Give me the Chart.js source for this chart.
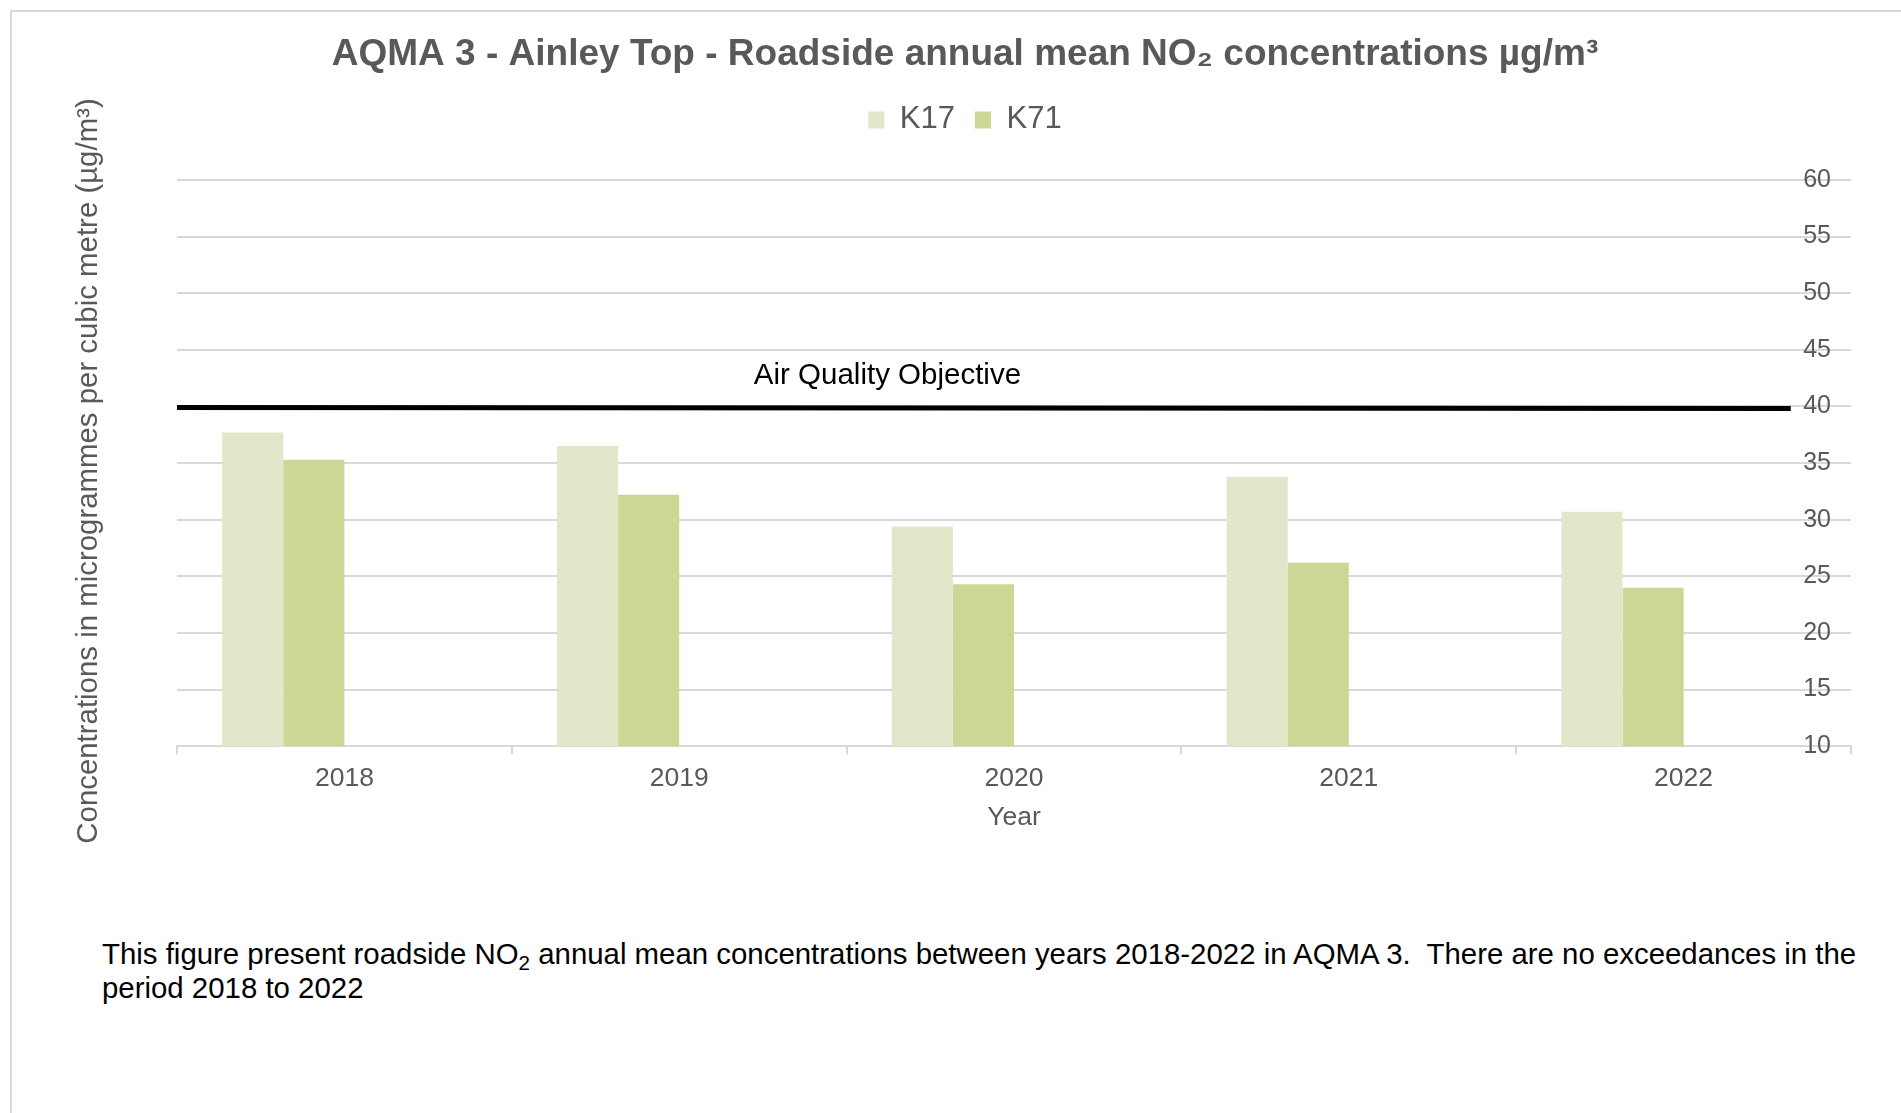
<!DOCTYPE html>
<html><head><meta charset="utf-8">
<script src="https://cdn.jsdelivr.net/npm/chart.js@4.4.0/dist/chart.umd.min.js"></script>
<style>
html,body{margin:0;padding:0;background:#fff;width:1901px;height:1113px;overflow:hidden;font-family:"Liberation Sans",Arial,sans-serif;}
#frame{position:absolute;left:10px;top:10px;width:1920px;height:1120px;border-left:2px solid #d9d9d9;border-top:2px solid #d9d9d9;}
#wrap{position:absolute;left:0;top:0;width:1901px;height:860px;}
#caption{position:absolute;left:102px;top:937px;font-size:29.4px;line-height:34px;color:#000;white-space:nowrap;}
#caption sub{font-size:0.7em;line-height:0;vertical-align:-0.3em;}
</style></head><body>
<div id="frame"></div>
<div id="wrap"><canvas id="c"></canvas></div>
<div id="caption">This figure present roadside NO<sub>2</sub> annual mean concentrations between years 2018-2022 in AQMA 3.&nbsp; There are no exceedances in the<br>period 2018 to 2022</div>
<script>
// ---- data ----
const years = ['2018', '2019', '2020', '2021', '2022'];
const seriesNames = ['K17', 'K71'];
const k17 = [37.7, 36.5, 29.4, 33.8, 30.7];
const k71 = [35.3, 32.2, 24.3, 26.2, 24.0];
const emptySeries = [null, null, null, null, null];
const objectiveValue = 40;
const objectiveLabel = 'Air Quality Objective';
const yMin = 10, yMax = 60, yStep = 5;
const chartTitle = 'AQMA 3 - Ainley Top - Roadside annual mean NO\u2082 concentrations \u00b5g/m\u00b3';
const yTitle = 'Concentrations in microgrammes per cubic metre (\u00b5g/m\u00b3)';
const xTitle = 'Year';

const FONT = '"Liberation Sans", Arial, sans-serif';
const GREY = '#595959';

const legendSpacer = {
  id: 'legendSpacer',
  beforeUpdate(chart) {
    const lg = chart.legend;
    if (lg && !lg._spaced) {
      const orig = lg.fit;
      lg.fit = function () { orig.call(this); this.height += 34.5; };
      lg._spaced = true;
    }
  }
};

const yTitlePlugin = {
  id: 'yTitlePlugin',
  afterDraw(chart) {
    const ctx = chart.ctx;
    ctx.save();
    ctx.translate(89, 471);
    ctx.rotate(-Math.PI / 2);
    ctx.font = '29.4px ' + FONT;
    ctx.fillStyle = GREY;
    ctx.textAlign = 'center';
    ctx.textBaseline = 'middle';
    ctx.fillText(yTitle, 0, 0);
    ctx.restore();
  }
};

const objectivePlugin = {
  id: 'objectivePlugin',
  afterDatasetsDraw(chart) {
    const ctx = chart.ctx;
    const a = chart.chartArea;
    const y = chart.scales.y.getPixelForValue(objectiveValue);
    const x1 = a.left;
    const x2 = a.left + (a.right - a.left) * 0.964;
    ctx.save();
    ctx.strokeStyle = '#000';
    ctx.lineWidth = 5;
    ctx.beginPath();
    ctx.moveTo(x1, y + 1);
    ctx.lineTo(x2, y + 2);
    ctx.stroke();
    ctx.font = '29.5px ' + FONT;
    ctx.fillStyle = '#000';
    ctx.textAlign = 'center';
    ctx.textBaseline = 'alphabetic';
    ctx.fillText(objectiveLabel, a.left + (a.right - a.left) * 0.4244, y - 22);
    ctx.restore();
  }
};

new Chart(document.getElementById('c'), {
  type: 'bar',
  data: {
    labels: years,
    datasets: [
      { label: seriesNames[0], data: k17, backgroundColor: '#e1e7c8', yAxisID: 'y' },
      { label: seriesNames[1], data: k71, backgroundColor: '#cbd795', yAxisID: 'y' },
      { label: 'blank1', data: emptySeries, backgroundColor: 'rgba(0,0,0,0)', yAxisID: 'y' },
      { label: 'blank2', data: emptySeries, backgroundColor: 'rgba(0,0,0,0)', yAxisID: 'y' }
    ]
  },
  options: {
    responsive: true,
    maintainAspectRatio: false,
    animation: false,
    events: [],
    devicePixelRatio: 1,
    datasets: { bar: { barPercentage: 1, categoryPercentage: 0.73 } },
    layout: { padding: { left: 79, right: 50, top: 23, bottom: 22.5 } },
    plugins: {
      title: {
        display: true, text: chartTitle, color: GREY,
        font: { family: FONT, size: 37, weight: 'bold' },
        padding: { top: 10, bottom: 7 }
      },
      legend: {
        display: true, position: 'top',
        labels: {
          boxWidth: 16, boxHeight: 17, padding: 20, color: GREY,
          font: { family: FONT, size: 31 },
          filter: (item) => seriesNames.includes(item.text)
        }
      },
      tooltip: { enabled: false }
    },
    scales: {
      x: {
        grid: { display: true, drawOnChartArea: false, drawTicks: true, tickLength: 8, color: '#d9d9d9', lineWidth: 2, offset: true },
        border: { display: true, color: '#d9d9d9', width: 2 },
        ticks: { color: GREY, font: { family: FONT, size: 26.5 }, padding: 8.6 },
        title: { display: true, text: xTitle, color: GREY, font: { family: FONT, size: 26.5 }, padding: { top: -1.5, bottom: 4 } }
      },
      yLeft: {
        type: 'linear', position: 'left', display: true,
        grid: { display: false }, border: { display: false }, ticks: { display: false },
        afterFit(s) { s.width = 98; }
      },
      y: {
        type: 'linear', position: 'right', min: yMin, max: yMax,
        grid: { color: '#d9d9d9', lineWidth: 2, drawTicks: false },
        border: { display: false },
        ticks: { stepSize: yStep, color: GREY, font: { family: FONT, size: 25 }, mirror: true, padding: -20 },
        afterFit(s) { s.width = 0; }
      }
    }
  },
  plugins: [legendSpacer, yTitlePlugin, objectivePlugin]
});
</script>
</body></html>
